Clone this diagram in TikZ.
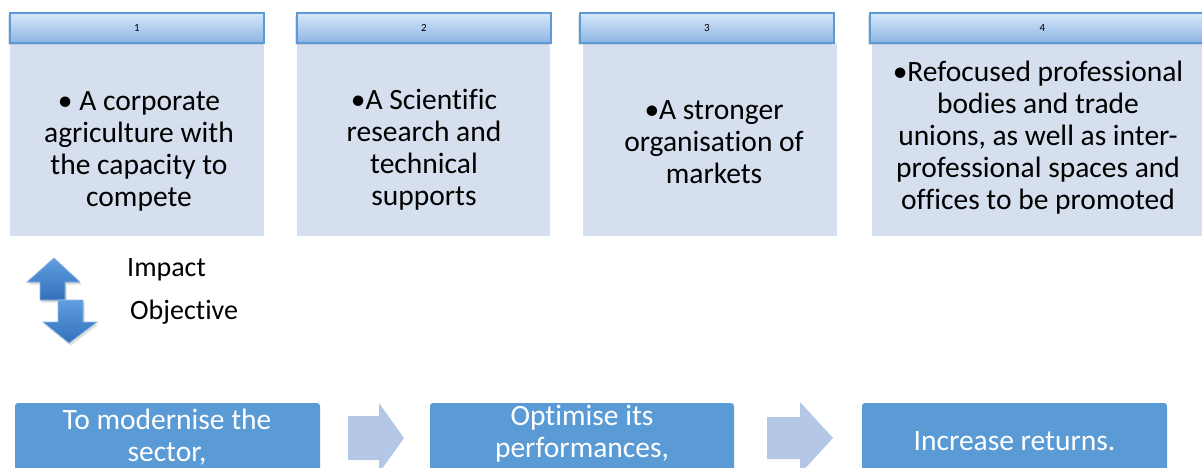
\documentclass[tikz,border=0pt]{standalone}
\usepackage{fontspec}
\setmainfont{Carlito}[Ligatures=NoCommon]
\usetikzlibrary{shadows}

\definecolor{cardfill}{RGB}{214,223,237}
\definecolor{headtop}{RGB}{216,231,251}
\definecolor{headbot}{RGB}{140,180,227}
\definecolor{headline}{RGB}{91,155,213}
\definecolor{goalfill}{RGB}{91,155,213}
\definecolor{stepfill}{RGB}{180,199,231}
\definecolor{keylight}{RGB}{96,158,224}
\definecolor{keydark}{RGB}{50,112,188}

\tikzset{
    head/.style={draw=headline, line width=1.5pt, top color=headtop, bottom color=headbot,
        minimum height=30, inner sep=0pt, font=\fontsize{11}{13}\selectfont,
        drop shadow={opacity=0.22, shadow xshift=-2pt, shadow yshift=-2pt}},
    card/.style={fill=cardfill, inner sep=0pt, minimum height=193},
    cardtext/.style={align=center, inner sep=0pt, font=\fontsize{29.5}{32}\selectfont},
    goal/.style={fill=goalfill, rounded corners=3pt, inner sep=0pt, minimum height=75},
    goaltext/.style={align=center, inner sep=0pt, text=white, font=\fontsize{29.5}{32}\selectfont},
    keytext/.style={anchor=west, inner sep=0pt, font=\fontsize{28}{32}\selectfont},
    steparrow/.style={fill=stepfill},
    keyarrow/.style={top color=keylight, bottom color=keydark, draw=keylight!70!white, line width=0.7pt,
        drop shadow={opacity=0.25, shadow xshift=1.5pt, shadow yshift=-2.5pt}},
}

\begin{document}
\begin{tikzpicture}[x=1pt, y=-1pt]
    \clip (0,0) rectangle (1202,467);
    \fill[white] (0,0) rectangle (1202,467);

    % Cards (body first, header laid over its top edge)
    \node[card, minimum width=254] (card1) at (137,139.5) {};
    \node[card, minimum width=253] (card2) at (423.5,139.5) {};
    \node[card, minimum width=254] (card3) at (710,139.5) {};
    \node[card, minimum width=343] (card4) at (1043.5,139.5) {};

    \node[head, minimum width=254] (head1) at (137,28) {1};
    \node[head, minimum width=254] (head2) at (424,28) {2};
    \node[head, minimum width=254] (head3) at (707,28) {3};
    \node[head, minimum width=345] (head4) at (1042.5,28) {4};

    % Card texts
    \node[cardtext] (text1) at (139,151) {• A corporate\\agriculture with\\the capacity to\\compete};
    \node[cardtext] (text2) at (424,150) {•A Scientific\\research and\\technical\\supports};
    \node[cardtext] (text3) at (714,142.5) {•A stronger\\organisation of\\markets};
    \node[cardtext] (text4) at (1038,138) {•Refocused professional\\bodies and trade\\unions, as well as inter-\\professional spaces and\\offices to be promoted};

    % Impact / objective key
    \filldraw[keyarrow] (54,258) -- (80,282) -- (65,282) -- (65,300) -- (40,300) -- (40,282) -- (27,282) -- cycle;
    \filldraw[keyarrow] (58,300) -- (83,300) -- (83,322) -- (97,322) -- (69,343) -- (43,322) -- (58,322) -- cycle;
    \node[keytext] (impact) at (127,270) {Impact};
    \node[keytext] (objective) at (130,312) {Objective};

    % Goals along the bottom
    \node[goal, minimum width=305] (goal1) at (167.5,440.5) {};
    \node[goal, minimum width=304] (goal2) at (582,440.5) {};
    \node[goal, minimum width=305] (goal3) at (1014.5,440.5) {};

    \node[goaltext] (goaltext1) at (167,437.5) {To modernise the\\sector,};
    \node[goaltext] (goaltext2) at (582,434) {Optimise its\\performances,};
    \node[goaltext] (goaltext3) at (1014.5,441) {Increase returns.};

    % Block arrows between goals
    \fill[steparrow] (348,416) -- (379,416) -- (379,403) -- (404,438) -- (379,473) -- (379,460) -- (348,460) -- cycle;
    \fill[steparrow] (767,417) -- (800,417) -- (800,402) -- (833,438) -- (800,474) -- (800,459) -- (767,459) -- cycle;
\end{tikzpicture}
\end{document}
